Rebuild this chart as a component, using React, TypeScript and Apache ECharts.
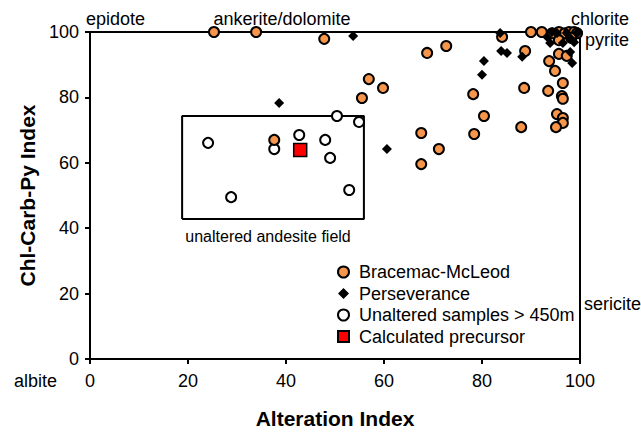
import React, { useEffect, useRef } from "react";
import * as echarts from "echarts";

const bracemac: number[][] = [
  [25.3, 100], [33.9, 100], [47.8, 97.9], [56.9, 85.6], [55.5, 79.8], [59.8, 82.9],
  [68.8, 93.6], [72.7, 95.7], [84.1, 98.5], [90, 100], [92.2, 100], [88.8, 94.2],
  [93.7, 91.1], [95.7, 93.3], [97.3, 92.7], [94.9, 88.1], [96.5, 84.4], [93.5, 82.0],
  [96.3, 80.4], [96.5, 79.6], [88.6, 82.9], [78.2, 81.0], [80.4, 74.3], [67.6, 69.1],
  [78.4, 68.8], [88.0, 70.9], [95.3, 74.9], [96.5, 73.7], [96.5, 72.2], [95.1, 70.9],
  [71.2, 64.2], [67.6, 59.6], [37.6, 67.0], [94.3, 99.6], [95.7, 100], [96.9, 99.6],
  [97.8, 100], [98.8, 100], [99.4, 99.6], [98.2, 98.2], [95.7, 97.5]
];
const perseverance: number[][] = [
  [53.7, 98.8], [38.6, 78.3], [60.6, 64.2], [83.7, 99.7], [83.9, 94.2], [85.1, 93.6],
  [88.2, 92.4], [80.4, 91.1], [80.0, 86.9], [93.9, 96.6], [93.3, 98.5], [96.5, 96.6],
  [98.0, 93.9], [98.4, 90.5], [98.8, 96.9], [95.3, 99.7], [97.3, 99.7], [99.4, 99.7],
  [98.0, 98.2], [99.6, 100], [94.3, 100]
];
const unaltered: number[][] = [
  [50.4, 74.3], [54.9, 72.5], [24.1, 66.1], [37.6, 64.2], [42.7, 68.5], [48.0, 67.0],
  [49.0, 61.5], [52.9, 51.7], [28.8, 49.5]
];
const precursor: number[][] = [[42.9, 63.9]];
const fieldBox: number[][] = [[18.8, 42.8], [55.9, 42.8], [55.9, 74.3], [18.8, 74.3], [18.8, 42.8]];

const FONT = "'Liberation Sans', Arial, Helvetica, sans-serif";

export default function App() {
  const ref = useRef<HTMLDivElement>(null);
  useEffect(() => {
    if (!ref.current) return;
    const chart = echarts.init(ref.current, undefined, { renderer: "svg" });
    const txt = (text: string, x: number, y: number, align = "left", size = 18) => ({
      type: "text",
      x,
      y,
      style: { text, fill: "#000", font: `${size}px ${FONT}`, textAlign: align, textVerticalAlign: "middle" },
    });
    chart.setOption({
      animation: false,
      textStyle: { fontFamily: FONT },
      grid: {
        left: 90, right: 61, top: 32, bottom: 75,
        show: true, borderColor: "#000", borderWidth: 2, backgroundColor: "transparent",
      },
      xAxis: {
        type: "value", min: 0, max: 100, interval: 20,
        name: "Alteration Index", nameLocation: "middle", nameGap: 49,
        nameTextStyle: { fontSize: 21, fontWeight: "bold", color: "#000", fontFamily: FONT },
        axisLine: { lineStyle: { color: "#000", width: 2 } },
        axisTick: { show: true, inside: false, length: 5, lineStyle: { color: "#000", width: 2 } },
        axisLabel: { color: "#000", fontSize: 18, margin: 13, fontFamily: FONT },
        splitLine: { show: false },
      },
      yAxis: {
        type: "value", min: 0, max: 100, interval: 20,
        name: "Chl-Carb-Py Index", nameLocation: "middle", nameGap: 49,
        nameTextStyle: { fontSize: 21, fontWeight: "bold", color: "#000", fontFamily: FONT },
        axisLine: { lineStyle: { color: "#000", width: 2 } },
        axisTick: { show: true, inside: false, length: 5, lineStyle: { color: "#000", width: 2 } },
        axisLabel: { color: "#000", fontSize: 18, margin: 11, fontFamily: FONT },
        splitLine: { show: false },
      },
      legend: {
        orient: "vertical", left: 332, top: 258, itemGap: 3.5, itemWidth: 11, itemHeight: 11,
        textStyle: { fontSize: 18, color: "#000", fontFamily: FONT, padding: [0, 0, 0, 5] },
        data: ["Bracemac-McLeod", "Perseverance", "Unaltered samples > 450m", "Calculated precursor"],
      },
      series: [
        {
          name: "field", type: "line", data: fieldBox, symbol: "none", silent: true,
          lineStyle: { color: "#000", width: 2 }, z: 1,
        },
        {
          name: "Unaltered samples > 450m", type: "scatter", data: unaltered, symbol: "circle", symbolSize: 10,
          itemStyle: { color: "#fff", borderColor: "#000", borderWidth: 2, opacity: 1 }, z: 3,
        },
        {
          name: "Bracemac-McLeod", type: "scatter", data: bracemac, symbol: "circle", symbolSize: 10,
          itemStyle: { color: "#F7964A", borderColor: "#000", borderWidth: 2, opacity: 1 }, z: 4,
        },
        {
          name: "Perseverance", type: "scatter", data: perseverance, symbol: "diamond", symbolSize: 10,
          itemStyle: { color: "#000", opacity: 1 }, z: 5,
        },
        {
          name: "Calculated precursor", type: "scatter", data: precursor, symbol: "rect", symbolSize: 13,
          itemStyle: { color: "#FF0000", borderColor: "#000", borderWidth: 1.5, opacity: 1 }, z: 6,
        },
      ],
      graphic: [
        txt("epidote", 86, 19),
        txt("ankerite/dolomite", 282, 19, "center"),
        txt("chlorite", 629, 19, "right"),
        txt("pyrite", 629, 40, "right"),
        txt("sericite", 641, 304, "right"),
        txt("albite", 14, 381),
        txt("unaltered andesite field", 268, 236, "center", 16),
      ],
    });
    return () => chart.dispose();
  }, []);
  return <div ref={ref} style={{ width: 641, height: 434, position: "absolute", left: 0, top: 0 }} />;
}
